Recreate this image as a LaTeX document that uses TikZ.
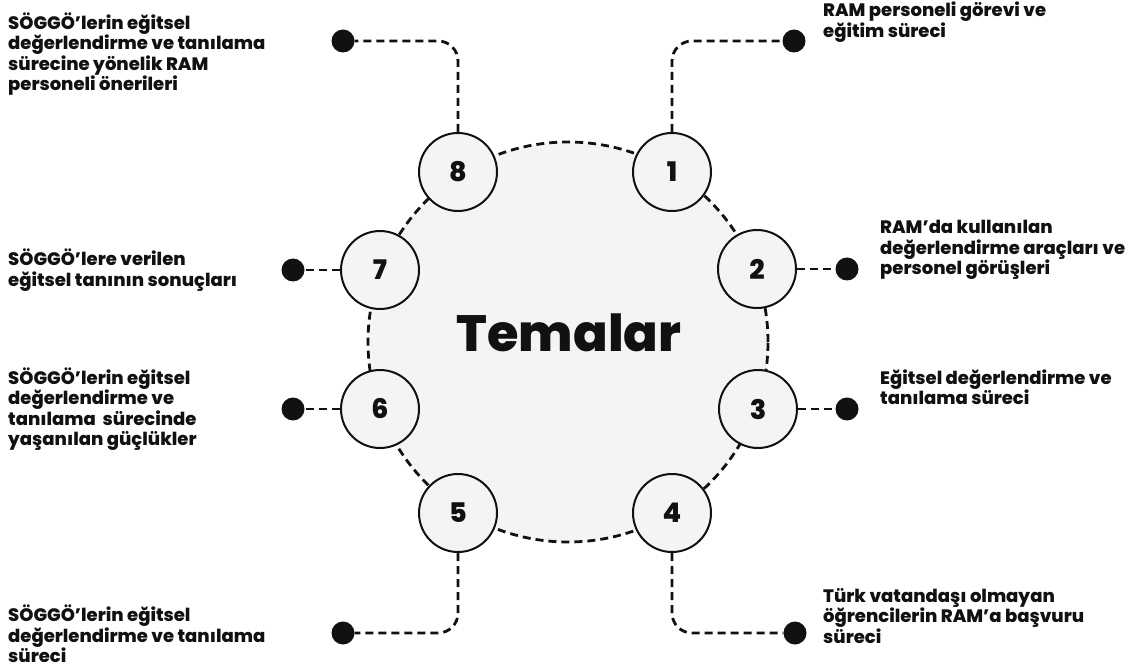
\documentclass[tikz,border=0pt]{standalone}
\usepackage{fontspec}
\setmainfont{Poppins}[BoldFont={Poppins ExtraBold}]
\begin{document}
\begin{tikzpicture}[x=1pt,y=-1pt,
  every node/.style={text=ink, font=\bfseries},
  hub/.style={circle, draw=ink, line width=2.8pt, dash pattern=on 8pt off 5pt, fill=paper, minimum size=400pt, inner sep=0pt},
  num/.style={circle, draw=ink, line width=2pt, fill=paper, minimum size=78pt, inner sep=0pt, font=\bfseries\fontsize{27}{30}\selectfont},
  dot/.style={circle, fill=ink, minimum size=23pt, inner sep=0pt},
  conn/.style={draw=ink, line width=2.8pt, dash pattern=on 8pt off 5pt, rounded corners=20pt},
  caption/.style={align=left, inner sep=0pt, font=\bfseries\fontsize{18}{20.5}\selectfont}
]
\definecolor{ink}{HTML}{111111}
\definecolor{paper}{HTML}{F4F4F4}
\useasboundingbox (0,0) rectangle (1132,668);
\fill[white] (0,0) rectangle (1132,668);

% central dashed circle and its title
\node[hub] (main) at (568,342) {};
\node[font=\bfseries\fontsize{51}{56}\selectfont] (title) at (569,333) {Temalar};

% numbered theme circles
\node[num] (c1) at (672,172) {1};
\node[num] (c2) at (757,269) {2};
\node[num] (c3) at (758,409) {3};
\node[num] (c4) at (672,513) {4};
\node[num] (c5) at (458,513) {5};
\node[num] (c6) at (380,409) {6};
\node[num] (c7) at (380,270) {7};
\node[num] (c8) at (458,172) {8};

% end dots
\node[dot] (d1) at (794,41) {};
\node[dot] (d2) at (847,269) {};
\node[dot] (d3) at (847,409) {};
\node[dot] (d4) at (795,633) {};
\node[dot] (d5) at (343,633) {};
\node[dot] (d6) at (293,409) {};
\node[dot] (d7) at (293,270) {};
\node[dot] (d8) at (343,41) {};

% leader lines
\draw[conn] (c1.north) |- (d1.west);
\draw[conn] (c2.east) -- (d2.west);
\draw[conn] (c3.east) -- (d3.west);
\draw[conn] (c4.south) |- (d4.west);
\draw[conn] (c5.south) |- (d5.east);
\draw[conn] (c6.west) -- (d6.east);
\draw[conn] (c7.west) -- (d7.east);
\draw[conn] (c8.north) |- (d8.east);

% theme captions
\node[caption, anchor=west] (t1) at (823,22) {RAM personeli görevi ve\\eğitim süreci};
\node[caption, anchor=west] (t2) at (880,250) {RAM’da kullanılan\\değerlendirme araçları ve\\personel görüşleri};
\node[caption, anchor=west] (t3) at (880,387) {Eğitsel değerlendirme ve\\tanılama süreci};
\node[caption, anchor=west] (t4) at (823,616) {Türk vatandaşı olmayan\\öğrencilerin RAM’a başvuru\\süreci};
\node[caption, anchor=west] (t5) at (8,634) {SÖGGÖ’lerin eğitsel\\değerlendirme ve tanılama\\süreci};
\node[caption, anchor=west] (t6) at (8,409) {SÖGGÖ’lerin eğitsel\\değerlendirme ve\\tanılama\ \ sürecinde\\yaşanılan güçlükler};
\node[caption, anchor=west] (t7) at (8,270) {SÖGGÖ’lere verilen\\eğitsel tanının sonuçları};
\node[caption, anchor=west] (t8) at (8,54) {SÖGGÖ’lerin eğitsel\\değerlendirme ve tanılama\\sürecine yönelik RAM\\personeli önerileri};
\end{tikzpicture}
\end{document}
